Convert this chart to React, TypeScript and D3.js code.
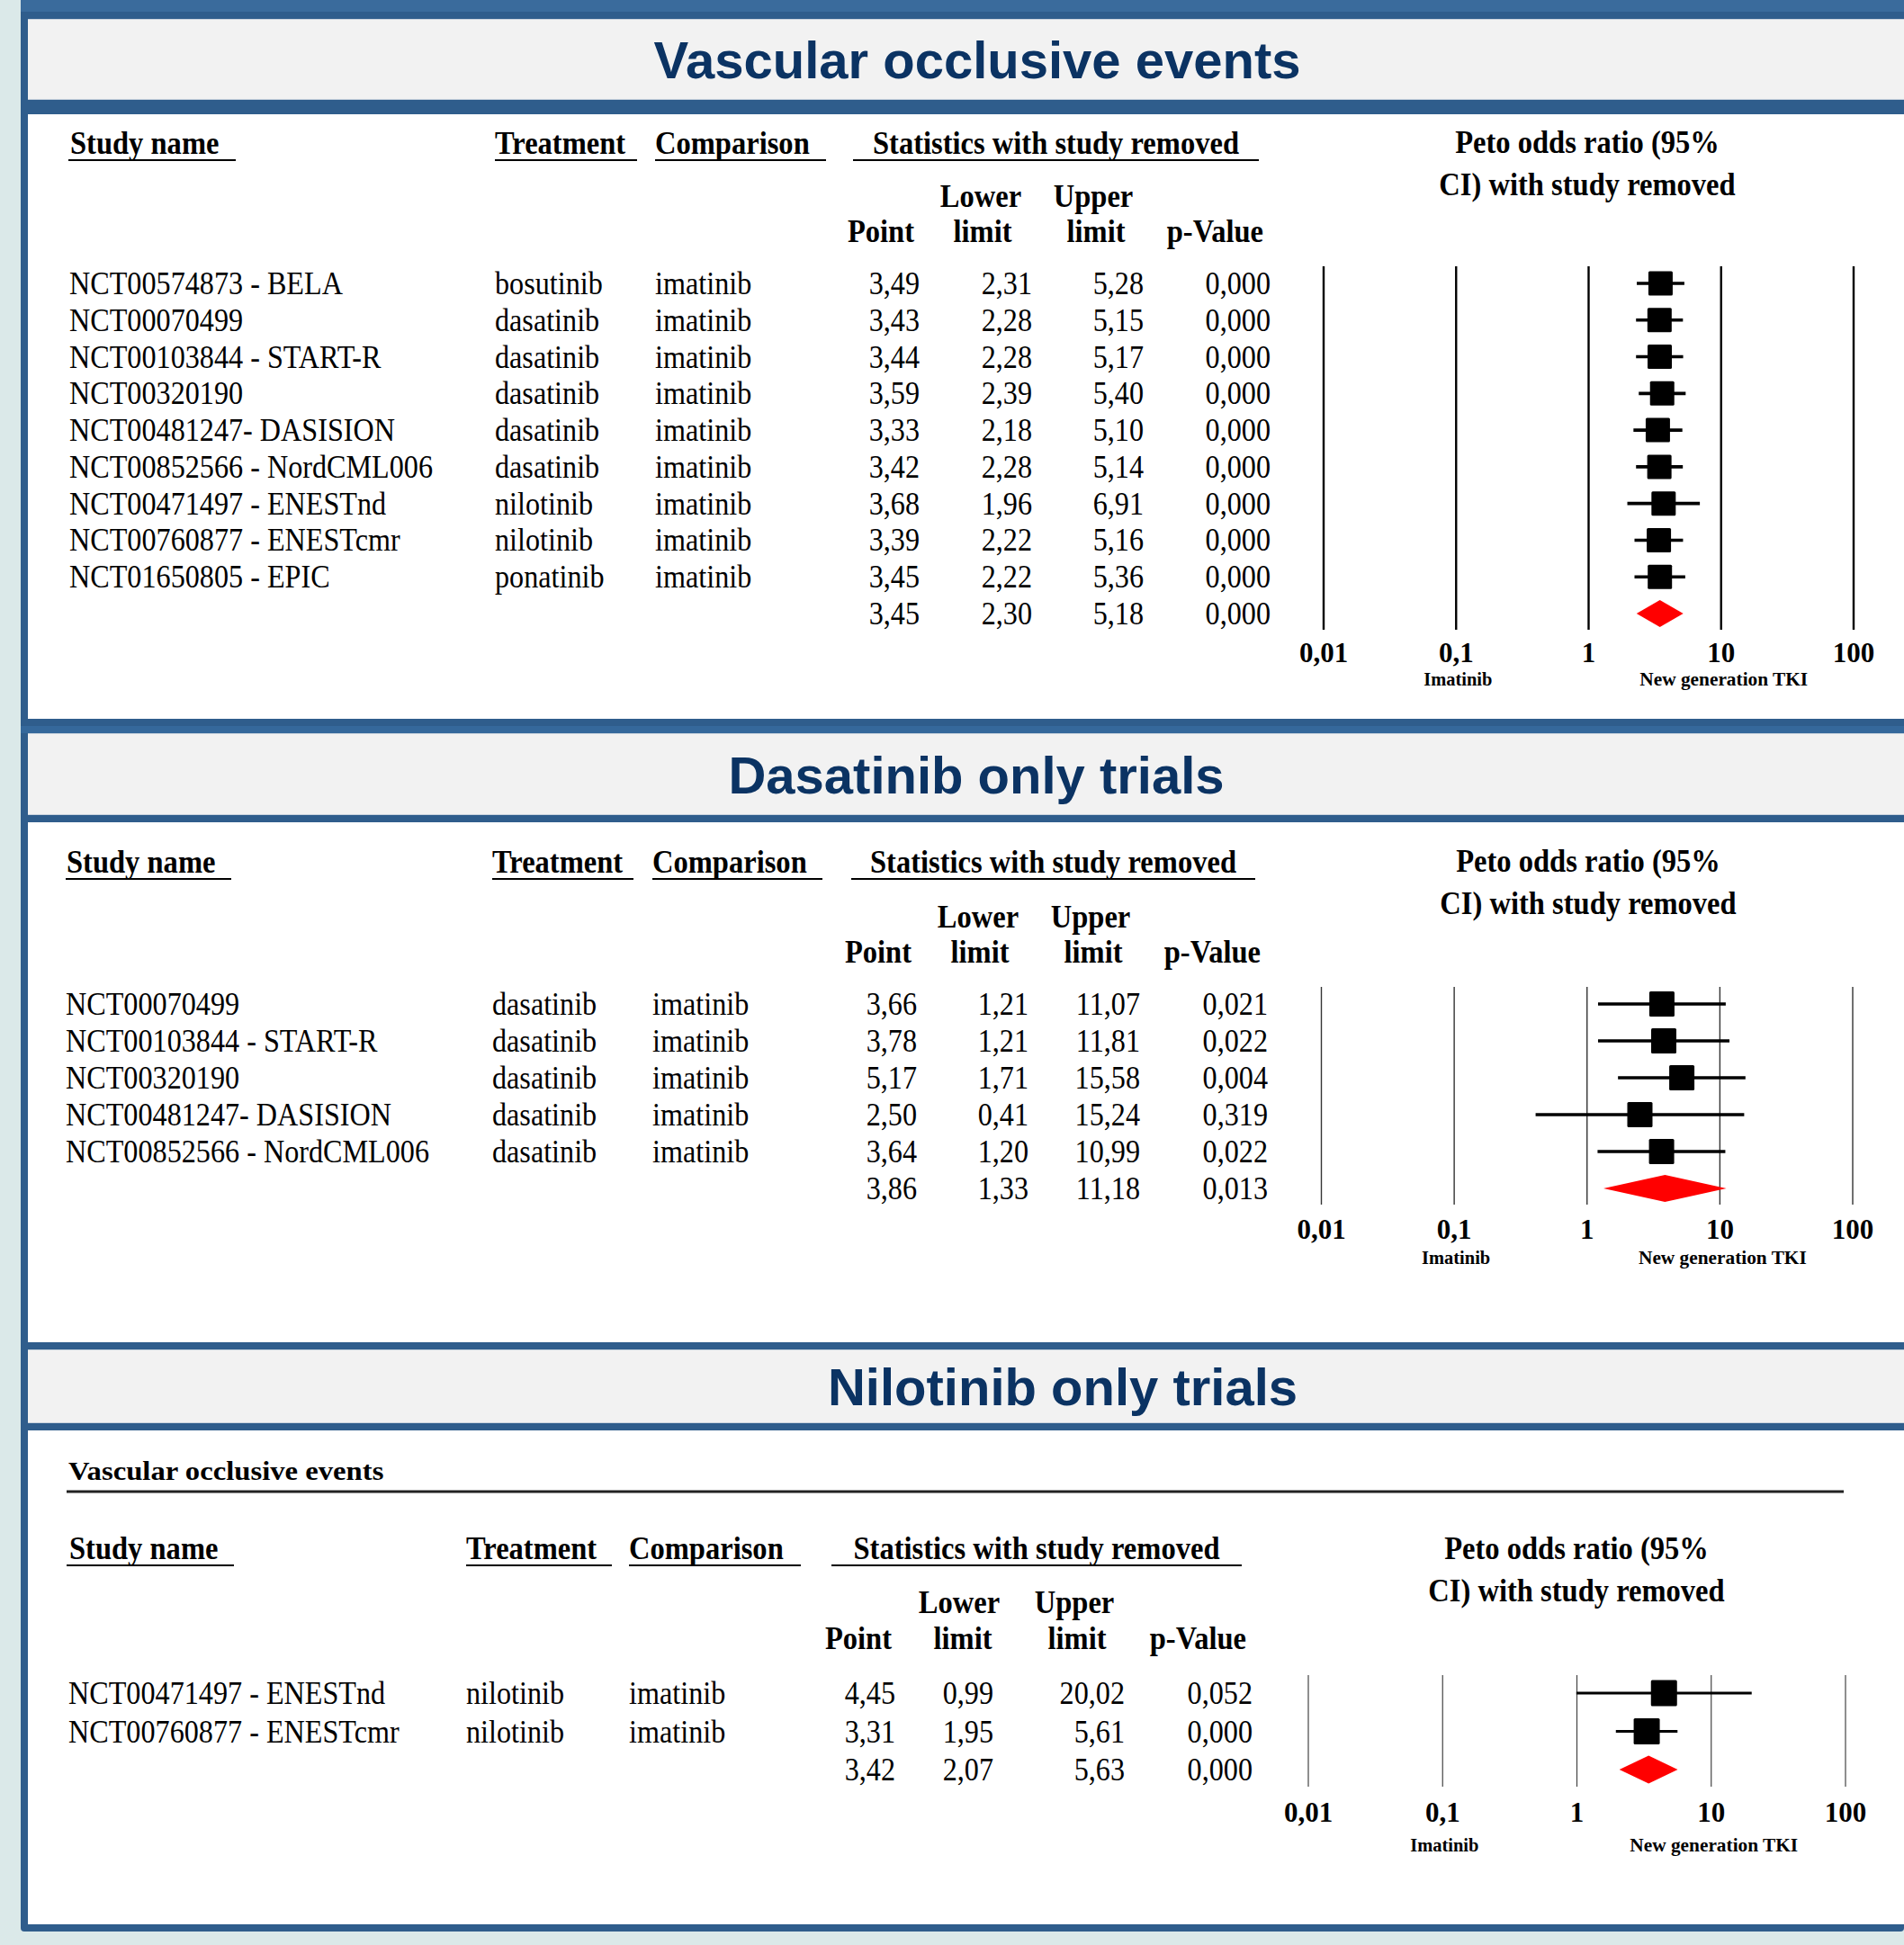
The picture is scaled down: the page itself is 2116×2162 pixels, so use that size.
import React from 'react';
import * as d3 from 'd3';

// --- Dữ liệu: tất cả các thử nghiệm ---
const allStudies = [
    "NCT00574873 - BELA",
    "NCT00070499",
    "NCT00103844 - START-R",
    "NCT00320190",
    "NCT00481247- DASISION",
    "NCT00852566 - NordCML006",
    "NCT00471497 - ENESTnd",
    "NCT00760877 - ENESTcmr",
    "NCT01650805 - EPIC",
];
const allTreatments = ["bosutinib", "dasatinib", "dasatinib", "dasatinib", "dasatinib", "dasatinib", "nilotinib", "nilotinib", "ponatinib"];
const allComparisons = ["imatinib", "imatinib", "imatinib", "imatinib", "imatinib", "imatinib", "imatinib", "imatinib", "imatinib"];
const allPoint = [3.49, 3.43, 3.44, 3.59, 3.33, 3.42, 3.68, 3.39, 3.45];
const allLower = [2.31, 2.28, 2.28, 2.39, 2.18, 2.28, 1.96, 2.22, 2.22];
const allUpper = [5.28, 5.15, 5.17, 5.40, 5.10, 5.14, 6.91, 5.16, 5.36];
const allPValue = [0.0, 0.0, 0.0, 0.0, 0.0, 0.0, 0.0, 0.0, 0.0];
const allPooled = [3.45, 2.30, 5.18, 0.0]; // point, lower, upper, p

// --- Dữ liệu: chỉ dasatinib ---
const dasStudies = ["NCT00070499", "NCT00103844 - START-R", "NCT00320190", "NCT00481247- DASISION", "NCT00852566 - NordCML006"];
const dasTreatments = ["dasatinib", "dasatinib", "dasatinib", "dasatinib", "dasatinib"];
const dasComparisons = ["imatinib", "imatinib", "imatinib", "imatinib", "imatinib"];
const dasPoint = [3.66, 3.78, 5.17, 2.50, 3.64];
const dasLower = [1.21, 1.21, 1.71, 0.41, 1.20];
const dasUpper = [11.07, 11.81, 15.58, 15.24, 10.99];
const dasPValue = [0.021, 0.022, 0.004, 0.319, 0.022];
const dasPooled = [3.86, 1.33, 11.18, 0.013];

// --- Dữ liệu: chỉ nilotinib ---
const nilStudies = ["NCT00471497 - ENESTnd", "NCT00760877 - ENESTcmr"];
const nilTreatments = ["nilotinib", "nilotinib"];
const nilComparisons = ["imatinib", "imatinib"];
const nilPoint = [4.45, 3.31];
const nilLower = [0.99, 1.95];
const nilUpper = [20.02, 5.61];
const nilPValue = [0.052, 0.0];
const nilPooled = [3.42, 2.07, 5.63, 0.0];

// Trục log
const axisTicks = [0.01, 0.1, 1, 10, 100];
const axisLabels = ["0,01", "0,1", "1", "10", "100"];

const SERIF = "'Liberation Serif', 'Times New Roman', serif";
const SANS = "'Liberation Sans', Arial, sans-serif";
const BLUE = "#2f5d8c";
const NAVY = "#0b3363";

const locale = d3.formatLocale({ decimal: ",", thousands: ".", grouping: [3], currency: ["", ""] });
const f2 = locale.format(".2f");
const f3 = locale.format(".3f");

interface TProps {
    x: number;
    y: number;
    anchor?: "start" | "middle" | "end";
    size?: number;
    bold?: boolean;
    sx?: number;
    children: React.ReactNode;
}

// Chữ serif hơi hẹp như ảnh gốc
const T: React.FC<TProps> = ({ x, y, anchor = "start", size = 35, bold = false, sx, children }) => (
    <text
        transform={`translate(${x},${y}) scale(${sx ?? (bold ? 0.93 : 0.92)},1)`}
        textAnchor={anchor}
        fontSize={size}
        fontWeight={bold ? "bold" : "normal"}
        fontFamily={SERIF}
        fill="#000"
    >
        {children}
    </text>
);

interface Layout {
    studyX: number; treatX: number; compX: number;
    pointR: number; lowerR: number; upperR: number; pR: number;
    headY: number; lineY: number;
    ulStudy: [number, number]; ulTreat: [number, number]; ulComp: [number, number]; ulStats: [number, number];
    petoX: number; petoY1: number; petoY2: number;
    subY1: number; subY2: number;
    pointHeadR: number; lowerHeadX: number; lowerLimitX: number; upperHeadX: number; upperLimitX: number; pHeadR: number;
    rowFirst: number; rowLast: number;
    gridTop: number; gridBottom: number; tickY: number; sideY: number;
    xMin: number; xMax: number;
    gridW: number; gridColor: string; ciW: number; box: number; diamondH: number;
}

interface ForestProps {
    layout: Layout;
    studies: string[];
    treatments: string[];
    comparisons: string[];
    point: number[];
    lower: number[];
    upper: number[];
    pValue: number[];
    pooled: number[];
}

const ForestPanel: React.FC<ForestProps> = ({ layout: L, studies, treatments, comparisons, point, lower, upper, pValue, pooled }) => {
    const n = studies.length;
    const xScale = d3.scaleLog().domain([0.01, 100]).range([L.xMin, L.xMax]);
    const yScale = d3.scaleLinear().domain([0, n]).range([L.rowFirst, L.rowLast]);
    const yP = yScale(n);
    const dp = (pl: number, lo: number, up: number, y: number) =>
        `M${xScale(lo)},${y}L${xScale(pl)},${y - L.diamondH / 2}L${xScale(up)},${y}L${xScale(pl)},${y + L.diamondH / 2}Z`;

    return (
        <g>
            {/* Tiêu đề cột */}
            <T x={L.studyX + 1} y={L.headY} bold>Study name</T>
            <T x={L.treatX} y={L.headY} bold>Treatment</T>
            <T x={L.compX} y={L.headY} bold>Comparison</T>
            <T x={(L.ulStats[0] + L.ulStats[1]) / 2} y={L.headY} anchor="middle" bold>Statistics with study removed</T>
            {[L.ulStudy, L.ulTreat, L.ulComp, L.ulStats].map((u, i) => (
                <line key={i} x1={u[0]} x2={u[1]} y1={L.lineY} y2={L.lineY} stroke="#000" strokeWidth={2.2} />
            ))}
            <T x={L.petoX} y={L.petoY1} anchor="middle" bold>Peto odds ratio (95%</T>
            <T x={L.petoX} y={L.petoY2} anchor="middle" bold>CI) with study removed</T>
            <T x={L.lowerHeadX} y={L.subY1} anchor="middle" bold>Lower</T>
            <T x={L.upperHeadX} y={L.subY1} anchor="middle" bold>Upper</T>
            <T x={L.pointHeadR} y={L.subY2} anchor="end" bold>Point</T>
            <T x={L.lowerLimitX} y={L.subY2} anchor="middle" bold>limit</T>
            <T x={L.upperLimitX} y={L.subY2} anchor="middle" bold>limit</T>
            <T x={L.pHeadR} y={L.subY2} anchor="end" bold>p-Value</T>

            {/* Hàng dữ liệu */}
            {studies.map((s, i) => {
                const yb = yScale(i) + 12;
                return (
                    <g key={s}>
                        <T x={L.studyX} y={yb}>{s}</T>
                        <T x={L.treatX} y={yb}>{treatments[i]}</T>
                        <T x={L.compX} y={yb}>{comparisons[i]}</T>
                        <T x={L.pointR} y={yb} anchor="end">{f2(point[i])}</T>
                        <T x={L.lowerR} y={yb} anchor="end">{f2(lower[i])}</T>
                        <T x={L.upperR} y={yb} anchor="end">{f2(upper[i])}</T>
                        <T x={L.pR} y={yb} anchor="end">{f3(pValue[i])}</T>
                    </g>
                );
            })}
            <T x={L.pointR} y={yP + 12} anchor="end">{f2(pooled[0])}</T>
            <T x={L.lowerR} y={yP + 12} anchor="end">{f2(pooled[1])}</T>
            <T x={L.upperR} y={yP + 12} anchor="end">{f2(pooled[2])}</T>
            <T x={L.pR} y={yP + 12} anchor="end">{f3(pooled[3])}</T>

            {/* Lưới dọc và nhãn trục */}
            {axisTicks.map((t, i) => (
                <g key={t}>
                    <line x1={xScale(t)} x2={xScale(t)} y1={L.gridTop} y2={L.gridBottom} stroke={L.gridColor} strokeWidth={L.gridW} />
                    <T x={xScale(t)} y={L.tickY} anchor="middle" size={31} bold sx={1}>{axisLabels[i]}</T>
                </g>
            ))}
            <T x={xScale(0.1) + 2} y={L.sideY} anchor="middle" size={22} bold sx={0.93}>Imatinib</T>
            <T x={xScale(10) + 3} y={L.sideY} anchor="middle" size={22} bold sx={0.97}>New generation TKI</T>

            {/* Khoảng tin cậy và ô vuông */}
            {studies.map((s, i) => {
                const y = yScale(i);
                const cx = xScale(point[i]);
                return (
                    <g key={"m" + s}>
                        <line x1={xScale(lower[i])} x2={xScale(upper[i])} y1={y} y2={y} stroke="#000" strokeWidth={L.ciW} />
                        <rect x={cx - L.box / 2} y={y - L.box / 2} width={L.box} height={L.box} fill="#000" rx={1.5} />
                    </g>
                );
            })}
            <path d={dp(pooled[0], pooled[1], pooled[2], yP)} fill="#ff0000" />
        </g>
    );
};

const layoutAll: Layout = {
    studyX: 77, treatX: 550, compX: 728,
    pointR: 1022, lowerR: 1147, upperR: 1271, pR: 1412,
    headY: 171, lineY: 178,
    ulStudy: [76, 262], ulTreat: [550, 708], ulComp: [728, 918], ulStats: [948, 1399],
    petoX: 1764, petoY1: 170, petoY2: 217,
    subY1: 230, subY2: 269,
    pointHeadR: 1016, lowerHeadX: 1090, lowerLimitX: 1092, upperHeadX: 1215, upperLimitX: 1218, pHeadR: 1404,
    rowFirst: 315, rowLast: 682,
    gridTop: 296, gridBottom: 700, tickY: 736, sideY: 762,
    xMin: 1471, xMax: 2060,
    gridW: 2.4, gridColor: "#000", ciW: 3.6, box: 27, diamondH: 30,
};

const layoutDas: Layout = {
    studyX: 73, treatX: 547, compX: 725,
    pointR: 1019, lowerR: 1143, upperR: 1267, pR: 1409,
    headY: 970, lineY: 977,
    ulStudy: [73, 257], ulTreat: [547, 704], ulComp: [725, 914], ulStats: [946, 1395],
    petoX: 1765, petoY1: 969, petoY2: 1016,
    subY1: 1031, subY2: 1070,
    pointHeadR: 1013, lowerHeadX: 1087, lowerLimitX: 1089, upperHeadX: 1212, upperLimitX: 1215, pHeadR: 1401,
    rowFirst: 1116, rowLast: 1321,
    gridTop: 1097, gridBottom: 1339, tickY: 1377, sideY: 1405,
    xMin: 1468.5, xMax: 2059,
    gridW: 1.4, gridColor: "#333", ciW: 3.3, box: 28, diamondH: 30,
};

const layoutNil: Layout = {
    studyX: 76, treatX: 518, compX: 699,
    pointR: 995, lowerR: 1104, upperR: 1250, pR: 1392,
    headY: 1733, lineY: 1740,
    ulStudy: [74, 260], ulTreat: [518, 680], ulComp: [699, 890], ulStats: [924, 1380],
    petoX: 1752, petoY1: 1733, petoY2: 1780,
    subY1: 1793, subY2: 1833,
    pointHeadR: 991, lowerHeadX: 1066, lowerLimitX: 1070, upperHeadX: 1194, upperLimitX: 1197, pHeadR: 1385,
    rowFirst: 1882, rowLast: 1967,
    gridTop: 1862, gridBottom: 1986, tickY: 2025, sideY: 2058,
    xMin: 1454, xMax: 2051,
    gridW: 1.2, gridColor: "#444", ciW: 3.2, box: 29, diamondH: 31,
};

// Dải tiêu đề màu xám
const TitleBand: React.FC<{ y0: number; y1: number; text: string; cx: number; base: number }> = ({ y0, y1, text, cx, base }) => (
    <g>
        <rect x={31} y={y0} width={2116 - 31} height={y1 - y0} fill="#f2f2f2" />
        <line x1={31} x2={2116} y1={y0 + 0.5} y2={y0 + 0.5} stroke="#c9d3dd" strokeWidth={1} />
        <line x1={31} x2={2116} y1={y1 - 0.5} y2={y1 - 0.5} stroke="#c9d3dd" strokeWidth={1} />
        <text x={cx} y={base} textAnchor="middle" fontFamily={SANS} fontWeight="bold" fontSize={58} fill={NAVY}>
            {text}
        </text>
    </g>
);

const App: React.FC = () => {
    const W = 2116;
    const H = 2162;
    return (
        <svg width={W} height={H} style={{ position: "absolute", left: 0, top: 0, display: "block" }}>
            {/* Nền */}
            <rect x={0} y={0} width={W} height={H} fill="#dbe9e9" />
            <rect x={23} y={0} width={W - 23} height={2147} fill={BLUE} rx={4} />
            <rect x={23} y={0} width={W - 23} height={13} fill="#3a6b9c" />

            <TitleBand y0={21} y1={111} text="Vascular occlusive events" cx={1086} base={87} />
            <rect x={31} y={127} width={W - 31} height={799 - 127} fill="#fff" />
            <rect x={23} y={807} width={W - 23} height={8} fill="#35689b" />
            <TitleBand y0={815} y1={906} text="Dasatinib only trials" cx={1085} base={882} />
            <rect x={31} y={914} width={W - 31} height={1492 - 914} fill="#fff" />
            <TitleBand y0={1500} y1={1582} text="Nilotinib only trials" cx={1181} base={1562} />
            <rect x={31} y={1590} width={W - 31} height={2139 - 1590} fill="#fff" />

            <ForestPanel
                layout={layoutAll}
                studies={allStudies}
                treatments={allTreatments}
                comparisons={allComparisons}
                point={allPoint}
                lower={allLower}
                upper={allUpper}
                pValue={allPValue}
                pooled={allPooled}
            />
            <ForestPanel
                layout={layoutDas}
                studies={dasStudies}
                treatments={dasTreatments}
                comparisons={dasComparisons}
                point={dasPoint}
                lower={dasLower}
                upper={dasUpper}
                pValue={dasPValue}
                pooled={dasPooled}
            />

            {/* Tiêu đề phụ của panel nilotinib */}
            <T x={76} y={1645} size={30} bold sx={1.09}>Vascular occlusive events</T>
            <line x1={74} x2={2049} y1={1658} y2={1658} stroke="#222" strokeWidth={3} />
            <ForestPanel
                layout={layoutNil}
                studies={nilStudies}
                treatments={nilTreatments}
                comparisons={nilComparisons}
                point={nilPoint}
                lower={nilLower}
                upper={nilUpper}
                pValue={nilPValue}
                pooled={nilPooled}
            />
        </svg>
    );
};

export default App;
